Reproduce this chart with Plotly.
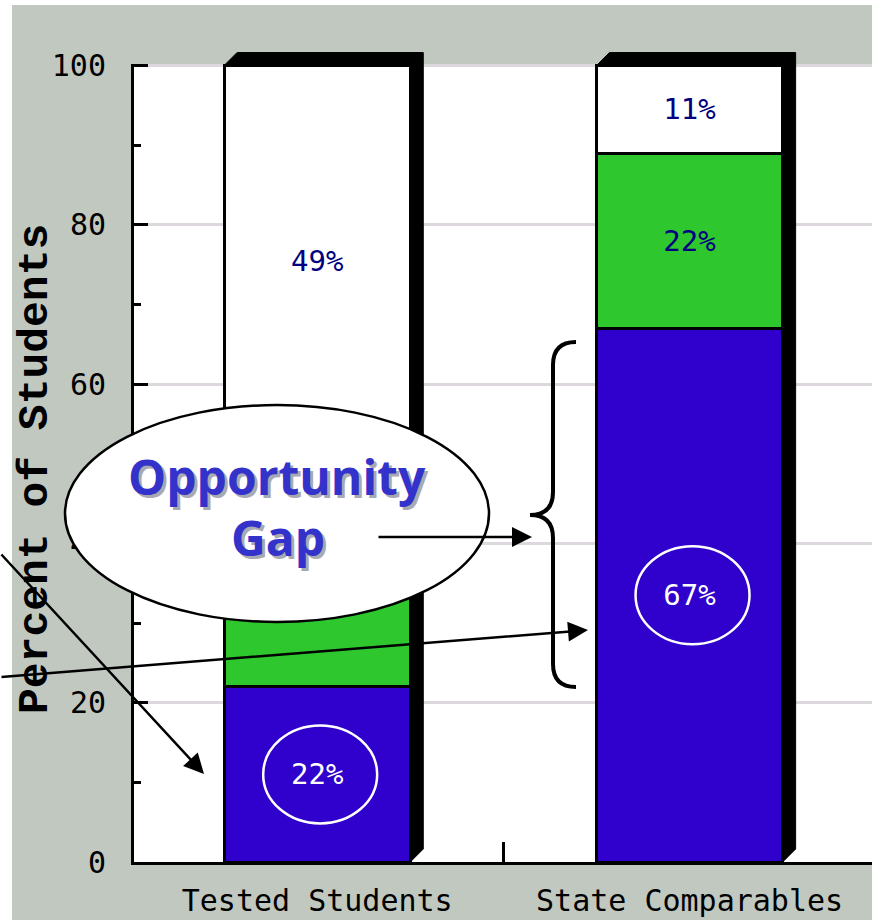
import plotly.graph_objects as go

# ---------------- data ----------------
categories = ["Tested Students", "State Comparables"]
blue_vals = [22, 67]
green_vals = [29, 22]
white_vals = [49, 11]
y_tick_vals = [0, 20, 40, 60, 80, 100]

BLUE = "#3000cc"
GREEN = "#2ec72e"
NAVY = "#000080"
GRAY = "#c0c8c0"
GRID = "#ddd8de"

W, H = 872, 920
ML, MR, MT, MB = 131, 0, 52, 58
XR = [-0.5, 1.49]
YR = [0, 101.7]
PW = W - ML - MR
PH = H - MT - MB
UX = PW / (XR[1] - XR[0])
UY = PH / (YR[1] - YR[0])

def px2x(px):
    return (px - ML) / UX + XR[0]

def py2y(py):
    return (H - MB - py) / UY

def px2p(px):
    return (px - ML) / PW

def py2p(py):
    return (H - MB - py) / PH

def pct(v):
    return [f"{x}%" for x in v]

lab_font = dict(family="DejaVu Sans Mono", size=29)

fig = go.Figure()
fig.add_bar(x=categories, y=blue_vals, name="Below", marker=dict(color=BLUE, line=dict(color="black", width=3)),
            text=pct(blue_vals), textposition="inside", insidetextanchor="middle", textangle=0,
            textfont=dict(color="white", **lab_font), width=0.5)
fig.add_bar(x=categories, y=green_vals, name="Middle", marker=dict(color=GREEN, line=dict(color="black", width=3)),
            text=pct(green_vals), textposition="inside", insidetextanchor="middle", textangle=0,
            textfont=dict(color=NAVY, **lab_font), width=0.5)
fig.add_bar(x=categories, y=white_vals, name="Top", marker=dict(color="white", line=dict(color="black", width=3)),
            text=pct(white_vals), textposition="inside", insidetextanchor="middle", textangle=0,
            textfont=dict(color=NAVY, **lab_font), width=0.5)

shapes = []
# white plot background up to 100
shapes.append(dict(type="rect", xref="x", yref="y", x0=-1, x1=3, y0=0, y1=100,
                   fillcolor="white", line=dict(width=0), layer="below"))
# y axis line
shapes.append(dict(type="line", xref="x", yref="y", x0=XR[0], x1=XR[0], y0=0, y1=100,
                   line=dict(color="black", width=6), layer="above"))
# 3D shadow of each bar
dx = 13 / UX
dy = 13 / UY
hw = 0.25
for i in range(len(categories)):
    tot = blue_vals[i] + green_vals[i] + white_vals[i]
    c = i
    path = (f"M {c-hw},{tot} L {c-hw+dx},{tot+dy} L {c+hw+dx},{tot+dy} "
            f"L {c+hw+dx},{dy} L {c+hw},0 L {c+hw},{tot} Z")
    shapes.append(dict(type="path", xref="x", yref="y", path=path,
                       fillcolor="black", line=dict(color="black", width=1), layer="above"))

# white rings around blue labels
for i in range(len(categories)):
    cy = blue_vals[i] / 2
    shapes.append(dict(type="circle", xref="x", yref="y",
                       x0=i + 3 / UX - 57 / UX, x1=i + 3 / UX + 57 / UX,
                       y0=cy - 49 / UY, y1=cy + 49 / UY,
                       line=dict(color="white", width=2.5), layer="above"))

# curly brace
bx_end, bx_mid, bx_tip = px2x(576), px2x(553), px2x(530)
y_top, y_bot, y_m = py2y(342), py2y(687), py2y(515)
r = 23 / UY
brace = (f"M {bx_end},{y_top} Q {bx_mid},{y_top} {bx_mid},{y_top - r} "
         f"L {bx_mid},{y_m + r} Q {bx_mid},{y_m} {bx_tip},{y_m} "
         f"Q {bx_mid},{y_m} {bx_mid},{y_m - r} "
         f"L {bx_mid},{y_bot + r} Q {bx_mid},{y_bot} {bx_end},{y_bot}")
shapes.append(dict(type="path", xref="x", yref="y", path=brace,
                   line=dict(color="black", width=4), layer="above"))

# big ellipse
shapes.append(dict(type="circle", xref="paper", yref="paper",
                   x0=px2p(65), x1=px2p(489), y0=py2p(622), y1=py2p(405),
                   fillcolor="white", line=dict(color="black", width=2.5), layer="above"))

# white image borders (left, top)
shapes.append(dict(type="rect", xref="paper", yref="paper", x0=px2p(-2), x1=px2p(12),
                   y0=py2p(H + 2), y1=py2p(-2), fillcolor="white", line=dict(width=0), layer="above"))
shapes.append(dict(type="rect", xref="paper", yref="paper", x0=px2p(-2), x1=px2p(W + 2),
                   y0=py2p(5), y1=py2p(-2), fillcolor="white", line=dict(width=0), layer="above"))

annotations = []
# arrows
for hx, hy, ax, ay in [(532, 537, -155, 0), (588, 630, -590, 47), (204, 774, -206, -221)]:
    annotations.append(dict(x=px2x(hx), y=py2y(hy), xref="x", yref="y", ax=ax, ay=ay,
                            showarrow=True, arrowhead=2, arrowsize=1.6, arrowwidth=2.5,
                            arrowcolor="black", text="", standoff=0))
# Opportunity Gap text (shadow + text)
for txt, cx, cy in [("Opportunity", 277, 476), ("Gap", 278, 537)]:
    for col, sh in [("#a9a9b4", 3), ("#3333cc", 0)]:
        annotations.append(dict(x=px2p(cx), y=py2p(cy), xref="paper", yref="paper", text=f"<b>{txt}</b>",
                                showarrow=False, xshift=sh, yshift=-sh, xanchor="center", yanchor="middle",
                                font=dict(family="Open Sans", size=48, color=col)))
# y axis title
annotations.append(dict(x=px2p(35), y=py2p(469), xref="paper", yref="paper", text="Percent of Students",
                        textangle=-90, showarrow=False, xanchor="center", yanchor="middle",
                        font=dict(family="Liberation Mono", size=43, color="black", weight="bold")))

fig.update_layout(
    barmode="stack", width=W, height=H, showlegend=False,
    margin=dict(l=ML, r=MR, t=MT, b=MB, pad=0),
    paper_bgcolor=GRAY, plot_bgcolor=GRAY,
    shapes=shapes, annotations=annotations, bargap=0.5,
)
fig.update_xaxes(type="category", range=XR, showline=True, linecolor="black", linewidth=3,
                 ticks="inside", tickson="boundaries", ticklen=20, tickwidth=3, tickcolor="black",
                 showgrid=False, zeroline=False,
                 tickfont=dict(family="DejaVu Sans Mono", size=30, color="black"), ticklabelstandoff=10)
fig.update_yaxes(range=YR, tickvals=y_tick_vals, showline=False, ticks="inside", ticklen=17, tickwidth=3,
                 tickcolor="black", showgrid=True, gridcolor=GRID, gridwidth=3, zeroline=False,
                 minor=dict(dtick=10, tick0=0, ticks="inside", ticklen=10, tickwidth=3, tickcolor="black", showgrid=False),
                 tickfont=dict(family="DejaVu Sans Mono", size=30, color="black"), ticklabelstandoff=24)

fig.write_html("out.html", config={"displayModeBar": False},
               post_script="document.body.style.margin='0';document.body.style.overflow='hidden';")
